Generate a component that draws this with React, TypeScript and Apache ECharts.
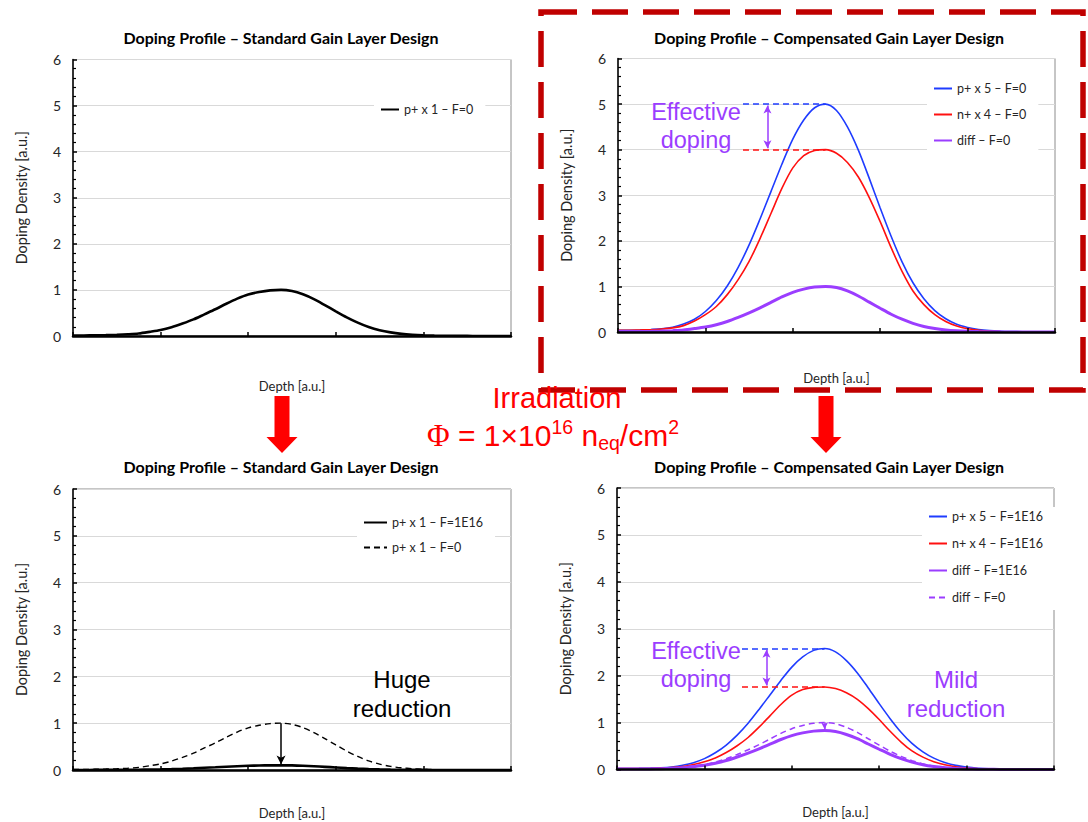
import React, { useEffect, useRef } from "react";
import * as echarts from "echarts";

// ---------- data ----------
const DEPTH = [0, 0.125, 0.25, 0.375, 0.5, 0.625, 0.75, 0.875, 1, 1.125, 1.25, 1.375, 1.5, 1.625, 1.75, 1.875, 2, 2.125, 2.25, 2.375, 2.5, 2.625, 2.75, 2.875, 3, 3.125, 3.25, 3.375, 3.5, 3.625, 3.75, 3.875, 4, 4.125, 4.25, 4.375, 4.5, 4.625, 4.75, 4.875, 5];

// Standard gain layer, p+ x 1
const STD_F0 = [0.01, 0.012, 0.015, 0.02, 0.027, 0.038, 0.055, 0.09, 0.13, 0.19, 0.27, 0.36, 0.47, 0.58, 0.7, 0.81, 0.9, 0.955, 0.99, 1.0, 0.975, 0.905, 0.8, 0.67, 0.535, 0.405, 0.29, 0.195, 0.125, 0.078, 0.047, 0.028, 0.016, 0.009, 0.005, 0.003, 0.002, 0.001, 0, 0, 0];
const STD_F16 = [0.001, 0.001, 0.002, 0.002, 0.003, 0.004, 0.006, 0.009, 0.013, 0.019, 0.027, 0.036, 0.047, 0.058, 0.07, 0.081, 0.09, 0.096, 0.099, 0.1, 0.098, 0.091, 0.08, 0.067, 0.054, 0.041, 0.029, 0.02, 0.013, 0.008, 0.005, 0.003, 0.002, 0.001, 0.001, 0, 0, 0, 0, 0, 0];

// Compensated gain layer, F = 0
const P5_F0 = [0.04, 0.04, 0.045, 0.055, 0.07, 0.105, 0.175, 0.28, 0.45, 0.69, 1.01, 1.42, 1.91, 2.48, 3.08, 3.68, 4.23, 4.65, 4.92, 5.0, 4.86, 4.5, 3.99, 3.37, 2.72, 2.1, 1.54, 1.08, 0.73, 0.47, 0.29, 0.17, 0.1, 0.055, 0.03, 0.017, 0.01, 0.006, 0.004, 0.002, 0.001];
const N4_F0 = [0.04, 0.04, 0.045, 0.05, 0.065, 0.09, 0.14, 0.24, 0.38, 0.56, 0.82, 1.15, 1.55, 2.05, 2.6, 3.15, 3.6, 3.87, 3.98, 4.0, 3.92, 3.72, 3.4, 2.95, 2.42, 1.85, 1.33, 0.9, 0.6, 0.38, 0.23, 0.13, 0.07, 0.04, 0.02, 0.01, 0.005, 0.003, 0.002, 0.001, 0];
const DIFF_F0 = [0.01, 0.01, 0.012, 0.015, 0.02, 0.03, 0.045, 0.075, 0.11, 0.16, 0.23, 0.32, 0.42, 0.53, 0.65, 0.77, 0.87, 0.94, 0.985, 1.0, 0.975, 0.9, 0.79, 0.655, 0.52, 0.39, 0.28, 0.19, 0.12, 0.075, 0.045, 0.027, 0.016, 0.009, 0.005, 0.003, 0.002, 0.001, 0, 0, 0];

// Compensated gain layer, F = 1E16
const P5_F16 = [0.02, 0.02, 0.023, 0.028, 0.036, 0.054, 0.09, 0.145, 0.232, 0.356, 0.521, 0.733, 0.986, 1.28, 1.589, 1.899, 2.183, 2.399, 2.539, 2.58, 2.508, 2.322, 2.059, 1.739, 1.404, 1.084, 0.795, 0.557, 0.377, 0.243, 0.15, 0.088, 0.052, 0.028, 0.015, 0.009, 0.005, 0.003, 0.002, 0.001, 0];
const N4_F16 = [0.018, 0.018, 0.02, 0.022, 0.029, 0.04, 0.062, 0.106, 0.167, 0.246, 0.361, 0.506, 0.682, 0.902, 1.144, 1.386, 1.584, 1.703, 1.751, 1.76, 1.725, 1.637, 1.496, 1.298, 1.065, 0.814, 0.585, 0.396, 0.264, 0.167, 0.101, 0.057, 0.031, 0.018, 0.009, 0.004, 0.002, 0.001, 0.001, 0, 0];
const DIFF_F16 = [0.008, 0.008, 0.01, 0.012, 0.017, 0.025, 0.037, 0.062, 0.091, 0.133, 0.191, 0.266, 0.349, 0.44, 0.54, 0.639, 0.722, 0.78, 0.818, 0.83, 0.809, 0.747, 0.656, 0.544, 0.432, 0.324, 0.232, 0.158, 0.1, 0.062, 0.037, 0.022, 0.013, 0.007, 0.004, 0.002, 0.002, 0.001, 0, 0, 0];

// annotation values (data units)
const PEAK_X = 2.375;
const GUIDE_X0 = 1.43;
const ARROW_X = 1.71;

const TITLE_STD = "Doping Profile – Standard Gain Layer Design";
const TITLE_CMP = "Doping Profile – Compensated Gain Layer Design";

// ---------- styling ----------
const FONT = "Lato, 'Open Sans', sans-serif";
const ARIAL = "'Liberation Sans', Arial, sans-serif";
const BLUE = "#1f3cff";
const RED = "#ff1010";
const PURPLE = "#9b3dff";
const BLACK = "#000000";

const pts = (ys: number[]) => DEPTH.map((x, i) => [x, ys[i]]);

const GRIDS = [
  { left: 73, top: 59.5, width: 438, height: 276.5 },
  { left: 618, top: 58.5, width: 437, height: 273.5 },
  { left: 73, top: 489, width: 438, height: 281 },
  { left: 617, top: 488, width: 437, height: 281.5 },
];

function xAxisFor(i: number, gap: number) {
  return {
    gridIndex: i,
    type: "value",
    min: 0,
    max: 5,
    interval: 1,
    name: "Depth [a.u.]",
    nameLocation: "middle",
    nameGap: gap,
    nameTextStyle: { fontSize: 13, color: "#262626", fontFamily: FONT },
    axisLine: { show: true, onZero: false, lineStyle: { color: BLACK, width: 2.5 } },
    axisTick: { show: true, inside: true, length: 4, lineStyle: { color: BLACK, width: 1.5 } },
    axisLabel: { show: false },
    splitLine: { show: false },
    z: 5,
  };
}

function yAxisFor(i: number) {
  return {
    gridIndex: i,
    type: "value",
    min: 0,
    max: 6,
    interval: 1,
    name: "Doping Density [a.u.]",
    nameLocation: "middle",
    nameGap: 44,
    nameRotate: 90,
    nameTextStyle: { fontSize: 14.5, color: "#262626", fontFamily: FONT },
    axisLine: { show: true, lineStyle: { color: BLACK, width: 1.5 } },
    axisTick: { show: true, inside: true, length: 4, lineStyle: { color: BLACK, width: 1.5 } },
    minorTick: { show: true, splitNumber: 5, length: 3, lineStyle: { color: BLACK, width: 1.2 } },
    axisLabel: { color: "#262626", fontSize: 14, margin: 12, fontFamily: FONT },
    splitLine: { show: true, lineStyle: { color: "#d9d9d9", width: 1.2 } },
  };
}

function line(name: string, i: number, ys: number[], color: string, width: number, dashed = false, extra: any = {}) {
  return {
    name,
    type: "line",
    xAxisIndex: i,
    yAxisIndex: i,
    data: pts(ys),
    smooth: 0.3,
    symbol: "none",
    showSymbol: false,
    lineStyle: { color, width, type: dashed ? [6, 4] : "solid" },
    itemStyle: { color },
    emphasis: { disabled: true },
    silent: true,
    ...extra,
  };
}

function guide(y: number, color: string) {
  return {
    silent: true,
    symbol: "none",
    label: { show: false },
    emphasis: { disabled: true },
    lineStyle: { color, width: 1.5, type: [6, 4] },
    data: [[{ coord: [GUIDE_X0, y] }, { coord: [PEAK_X, y] }]],
  };
}

function arrow(x: number, y0: number, y1: number, color: string, both: boolean, size = 8) {
  return {
    silent: true,
    symbol: [both ? "arrow" : "none", "arrow"],
    symbolSize: [size * 0.75, size],
    label: { show: false },
    emphasis: { disabled: true },
    lineStyle: { color, width: 1.5, type: "solid" },
    data: [[{ coord: [x, y0] }, { coord: [x, y1] }]],
  };
}

function legendFor(names: string[], left: number, top: number, iw: number, gap: number) {
  return {
    data: names,
    left,
    top,
    orient: "vertical",
    itemWidth: iw,
    itemHeight: 14,
    itemGap: gap,
    selectedMode: false,
    backgroundColor: "#ffffff",
    padding: [3, 12, 6, 6],
    itemStyle: { opacity: 0 },
    textStyle: { fontSize: 12.5, color: "#262626", fontFamily: FONT },
  };
}

function text(t: string, x: number, y: number, color: string, size: number, font = ARIAL, weight = "normal") {
  return {
    type: "text",
    x,
    y,
    z: 100,
    silent: true,
    style: {
      text: t,
      fill: color,
      fontSize: size,
      fontFamily: font,
      fontWeight: weight,
      textAlign: "center",
      textVerticalAlign: "middle",
      lineHeight: size * 1.2,
    },
  };
}

function blockArrow(cx: number) {
  const top = 396, neck = 437, tip = 453, sw = 7.5, hw = 15.5;
  return {
    type: "polygon",
    z: 100,
    silent: true,
    shape: {
      points: [
        [cx - sw, top], [cx + sw, top], [cx + sw, neck], [cx + hw, neck],
        [cx, tip], [cx - hw, neck], [cx - sw, neck],
      ],
    },
    style: { fill: "#ff0000" },
  };
}

export default function App() {
  const ref = useRef<HTMLDivElement>(null);

  useEffect(() => {
    if (!ref.current) return;
    const chart = echarts.init(ref.current, undefined, { renderer: "svg" });

    const L_TL = ["p+ x 1 – F=0"];
    const L_TR = ["p+ x 5 – F=0", "n+ x 4 – F=0", "diff – F=0"];
    const L_BL = ["p+ x 1 – F=1E16", "p+ x 1 – F=0 "];
    const L_BR = ["p+ x 5 – F=1E16", "n+ x 4 – F=1E16", "diff – F=1E16", "diff – F=0 "];

    const option: any = {
      animation: false,
      backgroundColor: "#ffffff",
      grid: GRIDS.map((g) => ({ ...g, show: true, borderColor: "#8c8c8c", borderWidth: 1, backgroundColor: "transparent" })),
      xAxis: [xAxisFor(0, 43), xAxisFor(1, 39), xAxisFor(2, 36), xAxisFor(3, 36)],
      yAxis: [yAxisFor(0), yAxisFor(1), yAxisFor(2), yAxisFor(3)],
      legend: [
        legendFor(L_TL, 374, 100, 18, 12),
        legendFor(L_TR, 927, 79, 18, 13),
        legendFor(L_BL, 357, 513, 23, 12),
        legendFor(L_BR, 922, 507, 18, 14),
      ],
      series: [
        line(L_TL[0], 0, STD_F0, BLACK, 2.6),

        line(L_TR[0], 1, P5_F0, BLUE, 1.6, false, { markLine: guide(5, BLUE) }),
        line(L_TR[1], 1, N4_F0, RED, 1.6, false, { markLine: guide(4, RED) }),
        line(L_TR[2], 1, DIFF_F0, PURPLE, 3, false, { markLine: arrow(ARROW_X, 4.97, 4.03, PURPLE, true) }),

        line(L_BL[0], 2, STD_F16, BLACK, 2.6),
        line(L_BL[1], 2, STD_F0, BLACK, 1.4, true, { markLine: arrow(PEAK_X, 1.0, 0.12, BLACK, false, 9) }),

        line(L_BR[0], 3, P5_F16, BLUE, 1.6, false, { markLine: guide(2.58, BLUE) }),
        line(L_BR[1], 3, N4_F16, RED, 1.6, false, { markLine: guide(1.76, RED) }),
        line(L_BR[2], 3, DIFF_F16, PURPLE, 3, false, { markLine: arrow(ARROW_X, 2.55, 1.79, PURPLE, true) }),
        line(L_BR[3], 3, DIFF_F0, PURPLE, 1.5, true, { markLine: arrow(PEAK_X, 1.0, 0.86, PURPLE, false, 7) }),
      ],
      graphic: [
        text(TITLE_STD, 281, 37, "#000", 16, FONT, "bold"),
        text(TITLE_CMP, 829, 37, "#000", 16, FONT, "bold"),
        text(TITLE_STD, 281, 466, "#000", 16, FONT, "bold"),
        text(TITLE_CMP, 829, 466, "#000", 16, FONT, "bold"),

        text("Effective\ndoping", 696, 126, PURPLE, 23.5),
        text("Effective\ndoping", 696, 665, PURPLE, 23.5),
        text("Huge\nreduction", 402, 694, "#000", 24),
        text("Mild\nreduction", 956, 694, PURPLE, 24),

        text("Irradiation", 557, 398, "#ff0000", 29),
        {
          type: "text",
          x: 553,
          y: 435,
          z: 100,
          silent: true,
          style: {
            text: "{p|Φ}{a| = 1×10}{s|16}{a| n}{b|eq}{a|/cm}{s|2}",
            textAlign: "center",
            textVerticalAlign: "middle",
            fill: "#ff0000",
            rich: {
              p: { fontSize: 31, fontFamily: "'Liberation Serif', serif", fill: "#ff0000", lineHeight: 36 },
              a: { fontSize: 30, fontFamily: ARIAL, fill: "#ff0000", lineHeight: 36 },
              s: { fontSize: 19.5, fontFamily: ARIAL, fill: "#ff0000", verticalAlign: "top", lineHeight: 21 },
              b: { fontSize: 19.5, fontFamily: ARIAL, fill: "#ff0000", verticalAlign: "bottom", lineHeight: 17 },
            },
          },
        },

        blockArrow(282),
        blockArrow(826),

        {
          type: "rect",
          z: 90,
          silent: true,
          shape: { x: 541, y: 12, width: 542, height: 378 },
          style: { fill: "none", stroke: "#c00000", lineWidth: 5.5, lineDash: [36, 15] },
        },
      ],
    };

    chart.setOption(option);
    return () => chart.dispose();
  }, []);

  return (
    <div
      ref={ref}
      style={{ position: "fixed", left: 0, top: 0, width: 1088, height: 822, background: "#fff" }}
    />
  );
}
